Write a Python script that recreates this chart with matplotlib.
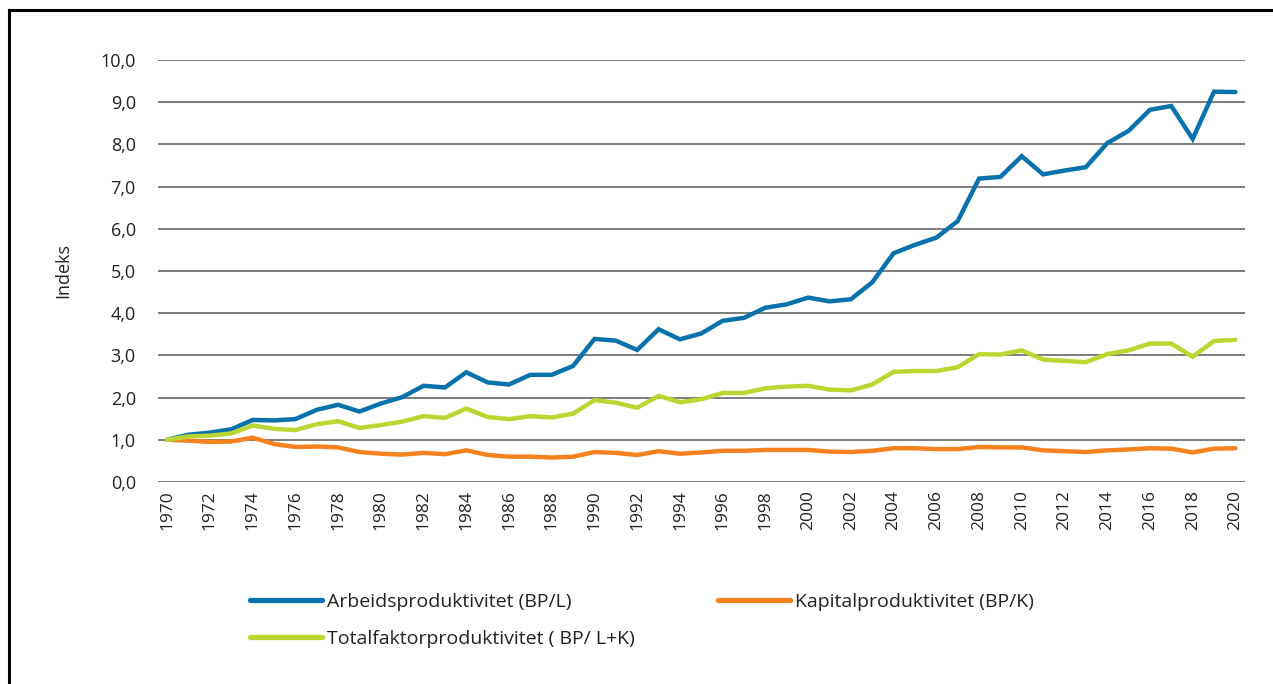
import matplotlib
matplotlib.use("Agg")
import matplotlib.pyplot as plt
from matplotlib.lines import Line2D

years = list(range(1970, 2021))

arbeid = [1.00, 1.12, 1.17, 1.25, 1.47, 1.46, 1.49, 1.71, 1.83, 1.67,
          1.86, 2.01, 2.28, 2.24, 2.60, 2.36, 2.31, 2.54, 2.54, 2.75,
          3.39, 3.35, 3.13, 3.62, 3.38, 3.52, 3.82, 3.89, 4.13, 4.21,
          4.37, 4.28, 4.33, 4.73, 5.42, 5.62, 5.79, 6.18, 7.19, 7.23,
          7.72, 7.29, 7.38, 7.46, 8.03, 8.32, 8.82, 8.91, 8.13, 9.25,
          9.24]

kapital = [1.00, 0.98, 0.95, 0.96, 1.05, 0.90, 0.83, 0.84, 0.82, 0.71,
           0.67, 0.65, 0.69, 0.66, 0.75, 0.64, 0.60, 0.60, 0.58, 0.60,
           0.71, 0.69, 0.64, 0.73, 0.67, 0.70, 0.74, 0.74, 0.76, 0.76,
           0.76, 0.72, 0.71, 0.74, 0.80, 0.80, 0.78, 0.78, 0.83, 0.82,
           0.82, 0.75, 0.73, 0.71, 0.75, 0.77, 0.80, 0.79, 0.70, 0.79,
           0.80]

totalfaktor = [1.00, 1.08, 1.10, 1.15, 1.34, 1.26, 1.23, 1.37, 1.44, 1.28,
               1.35, 1.43, 1.56, 1.52, 1.74, 1.54, 1.49, 1.56, 1.53, 1.62,
               1.94, 1.88, 1.76, 2.04, 1.89, 1.96, 2.11, 2.11, 2.22, 2.26,
               2.28, 2.19, 2.17, 2.31, 2.61, 2.63, 2.63, 2.72, 3.03, 3.02,
               3.12, 2.90, 2.87, 2.84, 3.03, 3.12, 3.28, 3.28, 2.97, 3.34,
               3.37]

labels = ["Arbeidsproduktivitet (BP/L)",
          "Kapitalproduktivitet (BP/K)",
          "Totalfaktorproduktivitet ( BP/ L+K)"]
colors = ["#0872AC", "#F5821F", "#BCD631"]

yticks = [i * 1.0 for i in range(11)]
ytick_labels = [f"{v:.1f}".replace(".", ",") for v in yticks]
xticks = list(range(1970, 2021, 2))

plt.rcParams['font.family'] = ['Open Sans', 'DejaVu Sans']

W, H = 1273, 684
fig = plt.figure(figsize=(W / 100, H / 100), dpi=100)
fig.patch.set_facecolor("white")

ax = fig.add_axes([158 / W, (H - 482) / H, (1245 - 158) / W, (482 - 60) / H])

l1, = ax.plot(years, arbeid, color=colors[0], lw=3.2, solid_capstyle="round", solid_joinstyle="miter", zorder=3)
l2, = ax.plot(years, kapital, color=colors[1], lw=3.2, solid_capstyle="round", solid_joinstyle="miter", zorder=3)
l3, = ax.plot(years, totalfaktor, color=colors[2], lw=3.2, solid_capstyle="round", solid_joinstyle="miter", zorder=3)

ax.set_xlim(1969.57, 2020.45)
ax.set_ylim(0, 10)
ax.set_yticks(yticks)
ax.set_yticklabels(ytick_labels)
ax.set_xticks(xticks)
ax.set_xticklabels([str(x) for x in xticks], rotation=90)

for s in ax.spines.values():
    s.set_visible(False)
ax.grid(axis="y", color="#5a5a5a", lw=1.1, zorder=1)
ax.grid(axis="x", visible=False)
ax.tick_params(axis="y", length=0, pad=16, labelsize=13, labelcolor="#222222")
ax.tick_params(axis="x", length=0, pad=6, labelsize=12.5, labelcolor="#222222")
ax.set_ylabel("Indeks", fontsize=13, color="#222222", labelpad=20)

leg = fig.legend([l1, l3, l2], [labels[0], labels[2], labels[1]],
                 ncol=2, loc="upper left", bbox_to_anchor=(250 / W, 1 - 593 / H),
                 frameon=False, fontsize=14, handlelength=3.7, handletextpad=0.28,
                 columnspacing=4.25, labelspacing=0.98, borderaxespad=0,
                 borderpad=0)
for t in leg.get_texts():
    t.set_color("#222222")
for h in leg.legend_handles:
    h.set_linewidth(3.8)

# frame
fig.add_artist(Line2D([9 / W, 9 / W], [0, 1 - 10 / H], transform=fig.transFigure, color="black", lw=2.2))
fig.add_artist(Line2D([9 / W, 1], [1 - 10 / H, 1 - 10 / H], transform=fig.transFigure, color="black", lw=2.2))

fig.savefig("out.png", dpi=100, facecolor="white")
